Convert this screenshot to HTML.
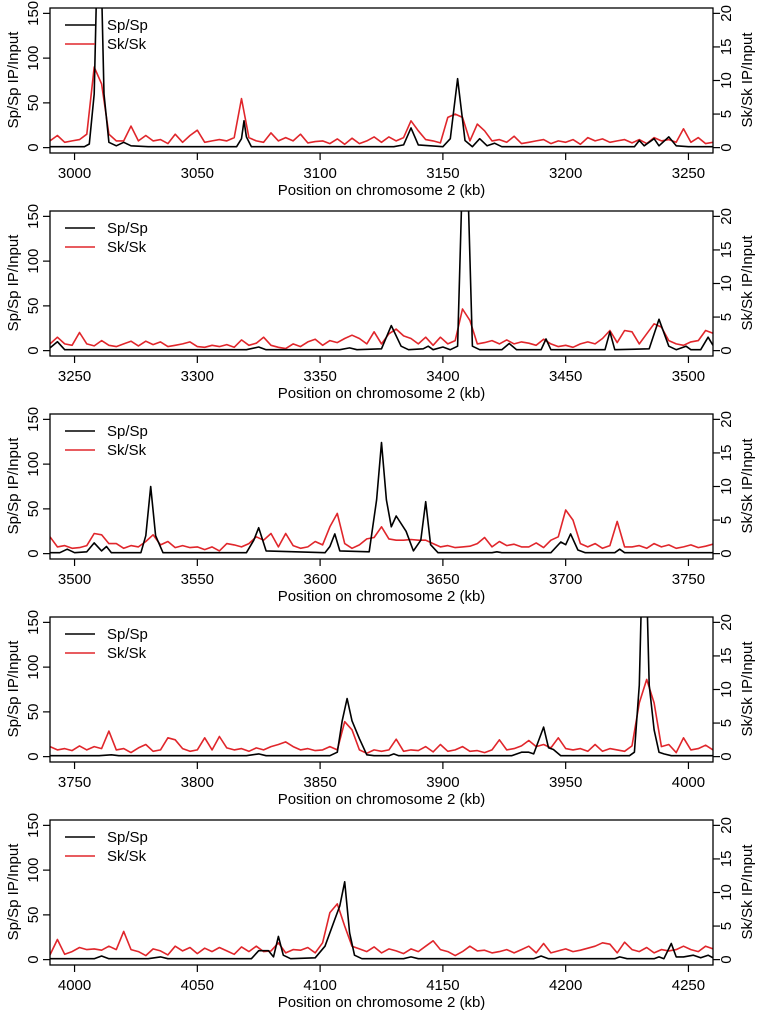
<!DOCTYPE html>
<html><head><meta charset="utf-8"><style>
html,body{margin:0;padding:0;background:#fff;}
svg{display:block;font-family:"Liberation Sans",Arial,sans-serif;}
</style></head><body>
<svg id="chart" width="765" height="1014" viewBox="0 0 765 1014" xmlns="http://www.w3.org/2000/svg"></svg>
<script>
const panelStarts = [2990, 3240, 3490, 3740, 3990];
const panelSpan = 270;
const redStep = 3;
const leftTicks = [0, 50, 100, 150];
const rightTicks = [0, 5, 10, 15, 20];
const xTickStep = 50;
const legendLabels = ["Sp/Sp", "Sk/Sk"];

const red1 = [1,1.8,0.8,1,1.2,2,12,9.5,2,1,1,3.2,1,1.8,1,1.2,0.6,2,0.8,1.8,2.6,0.8,1,1.2,1,1.5,7.3,1.5,1,0.8,2.2,1,1.5,1,2,0.7,0.9,1,0.6,1.3,0.5,1.4,0.6,1,1.6,0.8,1.6,1,1.5,4,2.5,1.2,1,0.7,4.5,5,4.5,1,3.5,2.5,1,1.2,0.8,1.7,0.6,0.8,1,1.2,0.6,1,0.8,1.2,0.5,1.5,1,1.3,0.8,1,1.2,0.7,1.2,0.6,1.5,1,1.2,0.8,2.8,0.8,1.5,0.6,0.8];
const red2 = [1,2,1,0.8,2.7,1,0.7,1.5,0.8,0.6,1,1.4,0.7,1.4,0.9,1.3,0.6,0.8,1,1.3,0.6,0.5,0.8,0.6,0.9,0.5,1.6,0.8,1.1,2,0.8,0.5,0.3,1,0.6,1.3,1.7,0.8,1.5,1.2,1.8,2.3,1.8,1,2.8,1,2.5,3.2,2.2,1.8,1,2,0.8,2,1,1.5,6.2,4.5,1,1.2,1.5,1,1.6,1,1.3,1.1,0.8,1.7,1,0.6,0.8,0.5,1,1.3,1,1.8,3,1.2,3,2.8,1,2.5,4,3.5,1.5,1,0.8,1.3,1.5,3,2.6];
const red3 = [2.5,1,1.2,0.8,0.9,1.2,3,2.8,1.5,1.5,0.8,1.2,1,1.8,2.8,1.3,1.8,0.9,1.2,0.9,1,0.6,1,0.4,1.5,1.3,1,1.5,2.5,2,3,1,3,1.2,0.8,1,1.8,1.3,4,6,1.5,0.8,1.3,2.2,2.4,4,2.2,2,2,2.1,2,2,1.5,1,1.2,0.9,1,1.1,1.5,2.4,1,1.8,1.2,1.4,1,1,1.6,0.9,2,2.5,6.5,5,1.5,1,1.5,0.8,1.2,4.8,1,1,1.2,0.8,1.5,1,1.3,0.8,1,1.3,0.9,1.1,1.4];
const red4 = [1.5,1,1.2,0.9,1.6,1,1.5,1.2,3.8,1,1.2,0.6,1.3,1.8,0.8,1,2.8,2.5,1.2,0.8,1,2.8,1,3,1.3,1,1.2,0.8,1.3,1,1.5,1.8,2.2,1.5,1,1.2,0.9,1,1.5,1,5.2,4,1,0.5,1,0.8,1,2.6,0.8,1,0.9,1.5,0.7,1.8,0.8,1,1.5,0.8,0.9,0.6,1,2.5,1,1.2,1.6,2.4,1.5,1.8,1.3,2.8,1.2,1,1.2,0.8,1.8,0.8,1.2,1,0.8,1.6,8,11.5,8,1.5,1.8,0.6,2.8,1,1.2,1.7,1];
const red5 = [0.7,3,0.8,1.2,1.8,1.5,1.6,1.4,2,1.5,4.2,1.5,1.2,0.6,1.6,1.3,0.7,2,1.3,1.8,0.9,1.7,1.2,1.8,1.3,0.8,1.9,1.2,2,1.2,1.3,2.5,1,1.5,1.4,1.8,1,2.5,7,8.3,5,2,1.6,1.2,1.9,1,1.6,1.3,0.9,1.6,1.2,2,2.8,1.5,1.2,0.6,1.2,2,1.3,1.4,1,1.2,1.5,1,1.5,2,1,2.4,1,1.3,1.6,1.2,1.4,1.7,2,2.5,2.3,1,2.6,1.5,1.2,1.8,1,1.5,1.3,1.5,2,1.5,1.2,2,1.6];
const redSeries = [red1, red2, red3, red4, red5];

const black1 = [[2990,1],[3004,1],[3006,4],[3008,60],[3010,300],[3012,60],[3014,6],[3017,2],[3020,6],[3023,2],[3030,1],[3066,1],[3068,10],[3069,30],[3070,12],[3072,1],[3130,1],[3134,3],[3137,22],[3140,3],[3150,1],[3153,10],[3156,77],[3159,8],[3162,1],[3165,10],[3168,2],[3171,5],[3174,1],[3228,1],[3230,8],[3232,2],[3236,10],[3238,2],[3242,12],[3245,2],[3250,1],[3260,1]];
const black2 = [[3240,3],[3243,10],[3246,1],[3320,1],[3325,4],[3328,1],[3358,1],[3362,3],[3365,1],[3375,2],[3379,28],[3383,5],[3386,1],[3392,2],[3394,5],[3396,1],[3400,4],[3403,1],[3406,5],[3409,300],[3412,5],[3415,1],[3424,1],[3427,8],[3430,1],[3440,1],[3442,13],[3444,1],[3466,1],[3468,21],[3470,1],[3484,2],[3488,35],[3492,5],[3495,1],[3499,5],[3501,1],[3505,1],[3508,15],[3510,6]];
const black3 = [[3490,1],[3494,1],[3497,5],[3500,1],[3505,2],[3508,12],[3511,3],[3513,8],[3515,1],[3527,1],[3529,20],[3531,75],[3533,20],[3536,1],[3570,1],[3573,15],[3575,29],[3578,3],[3602,1],[3604,8],[3606,22],[3608,3],[3620,2],[3623,60],[3625,124],[3627,60],[3629,30],[3631,42],[3635,25],[3638,3],[3641,15],[3643,58],[3645,10],[3648,1],[3670,1],[3672,2],[3674,1],[3694,1],[3698,13],[3700,10],[3702,22],[3705,4],[3708,1],[3720,1],[3722,5],[3724,1],[3760,1]];
const black4 = [[3740,1],[3760,1],[3765,2],[3768,1],[3820,1],[3825,3],[3828,1],[3854,1],[3857,5],[3859,40],[3861,65],[3863,40],[3866,20],[3869,2],[3872,1],[3878,1],[3880,3],[3882,1],[3928,1],[3932,5],[3935,5],[3937,3],[3941,33],[3943,10],[3945,8],[3948,1],[3976,1],[3978,5],[3980,80],[3982,300],[3984,80],[3986,30],[3988,5],[3990,3],[3993,1],[4010,1]];
const black5 = [[3990,1],[3995,1],[4000,1],[4008,1],[4011,4],[4014,1],[4030,1],[4035,3],[4038,1],[4072,1],[4075,10],[4079,10],[4081,3],[4083,26],[4085,5],[4088,1],[4098,2],[4102,15],[4106,45],[4108,60],[4110,87],[4112,30],[4114,5],[4117,1],[4134,1],[4137,3],[4140,1],[4187,1],[4190,4],[4193,1],[4220,1],[4222,3],[4225,1],[4236,1],[4238,3],[4240,1],[4243,18],[4245,3],[4248,3],[4252,5],[4255,2],[4258,5],[4260,2]];
const blackSeries = [black1, black2, black3, black4, black5];

const NS = "http://www.w3.org/2000/svg";
const svg = document.getElementById("chart");
function mk(tag, attrs, parent){ const e=document.createElementNS(NS,tag); for(const k in attrs) e.setAttribute(k,attrs[k]); (parent||svg).appendChild(e); return e; }

const L=50, R=713, panelGap=203, top0=8, boxH=145;
panelStarts.forEach((start,p)=>{
  const oy = top0 + p*panelGap;
  const g = mk("g",{});
  
  
  const xS = v => L + (v-start)/panelSpan*(R-L);
  const yL = v => oy + boxH - (v+6)/162*boxH;
  const yR = v => oy + boxH - (v+0.8)/21.6*boxH;
  const cid = "clip"+p;
  const cp = mk("clipPath",{id:cid},g); mk("rect",{x:L,y:oy,width:R-L,height:boxH},cp);
  // red
  const rpts = redSeries[p].map((v,i)=>xS(start+i*redStep).toFixed(1)+","+yR(v).toFixed(1)).join(" ");
  const rl = mk("polyline",{points:rpts,fill:"none",stroke:"#e0262b","stroke-width":1.6,"stroke-linejoin":"round","clip-path":"url(#"+cid+")"},g);
  
  
  const bpts = blackSeries[p].map(d=>xS(d[0]).toFixed(1)+","+yL(d[1]).toFixed(1)).join(" ");
  const bl = mk("polyline",{points:bpts,fill:"none",stroke:"#000","stroke-width":1.6,"stroke-linejoin":"round","clip-path":"url(#"+cid+")"},g);
  
  
  const box = mk("rect",{x:L,y:oy,width:R-L,height:boxH,fill:"none",stroke:"#000","stroke-width":1.3},g);
  
  
  // x ticks
  for(let t=Math.ceil(start/xTickStep)*xTickStep; t<=start+panelSpan; t+=xTickStep){
    const x=xS(t);
    mk("line",{x1:x,x2:x,y1:oy+boxH,y2:oy+boxH+7,stroke:"#000","stroke-width":1.2},g);
    const tx=mk("text",{x:x,y:oy+boxH+25,"font-size":15,"text-anchor":"middle"},g); tx.textContent=t;
    
    
  }
  const xt=mk("text",{x:(L+R)/2,y:oy+boxH+42,"font-size":15,"text-anchor":"middle"},g); xt.textContent="Position on chromosome 2 (kb)";
  
  
  leftTicks.forEach(t=>{
    const y=yL(t);
    mk("line",{x1:L,x2:L-7,y1:y,y2:y,stroke:"#000","stroke-width":1.2},g);
    const tx=mk("text",{x:38,y:y,"font-size":15,"text-anchor":"middle",transform:"rotate(-90 38 "+y+")"},g); tx.textContent=t;
    
    
  });
  const yt=mk("text",{x:18,y:oy+72,"font-size":15,"text-anchor":"middle",transform:"rotate(-90 18 "+(oy+72)+")"},g); yt.textContent="Sp/Sp IP/Input";
  
  
  rightTicks.forEach(t=>{
    const y=yR(t);
    mk("line",{x1:R,x2:R+7,y1:y,y2:y,stroke:"#000","stroke-width":1.2},g);
    const tx=mk("text",{x:731,y:y,"font-size":15,"text-anchor":"middle",transform:"rotate(-90 731 "+y+")"},g); tx.textContent=t;
    
    
  });
  const rt=mk("text",{x:752,y:oy+72,"font-size":15,"text-anchor":"middle",transform:"rotate(-90 752 "+(oy+72)+")"},g); rt.textContent="Sk/Sk IP/Input";
  
  
  // legend
  ["#000","#e0262b"].forEach((c,i)=>{
    const ly=oy+17+i*19;
    const le=mk("g",{},g);
    
    
    mk("line",{x1:65,x2:95,y1:ly,y2:ly,stroke:c,"stroke-width":1.6},le);
    const tx=mk("text",{x:107,y:ly+5,"font-size":15},le); tx.textContent=legendLabels[i];
  });
});
</script>
</body></html>
